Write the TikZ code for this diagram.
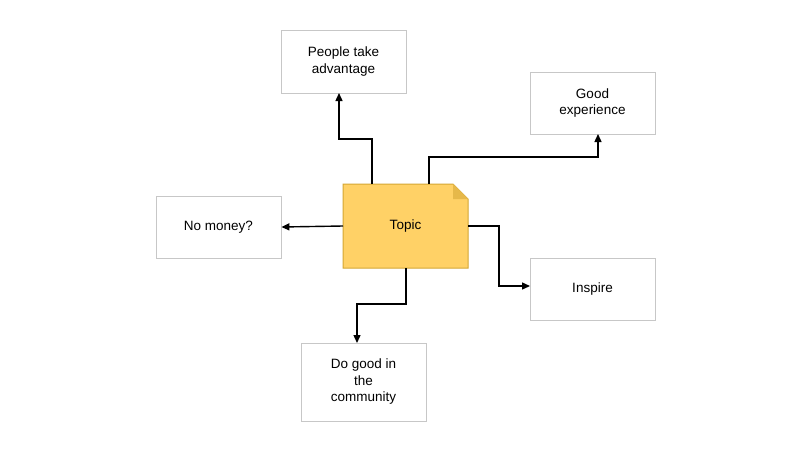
\documentclass[tikz,border=0pt]{standalone}
\usepackage{fontspec}
\setmainfont{Liberation Sans}
\usetikzlibrary{arrows.meta}
\begin{document}
\begin{tikzpicture}[x=1pt,y=-1pt,
  box/.style={draw=black!22,line width=0.8pt,fill=white,align=center,minimum width=125pt,font=\fontsize{13.5}{16.5}\selectfont},
  conn/.style={draw=black,line width=1.4pt,-{Triangle[length=8pt,width=7pt]}}]
\useasboundingbox[fill=white] (0,0) rectangle (800,452);
\definecolor{gold}{HTML}{FFD166}
\definecolor{goldb}{HTML}{D4A733}
\definecolor{goldf}{HTML}{E6B84A}
\node[box,minimum height=63pt] (pta) at (343.5,61.5) {People take\\advantage};
\node[box,minimum height=62pt] (ge) at (592.5,103) {Good\\experience};
\node[box,minimum height=62pt] (nm) at (218.5,227) {No money?};
\node[box,minimum height=62pt] (ins) at (592.5,289) {Inspire};
\node[box,minimum height=78pt] (dg) at (363.5,382) {Do good in\\the\\community};
% topic note
\fill[gold,draw=goldb,line width=1pt] (343,184) -- (453,184) -- (468,199) -- (468,268) -- (343,268) -- cycle;
\fill[goldf] (453,184) -- (453,199) -- (468,199) -- cycle;
\node[minimum width=125pt,minimum height=84pt,font=\fontsize{13.5}{16.5}\selectfont] (t) at (405.5,226) {Topic};
\coordinate (a1) at (372,184);
\coordinate (a2) at (429,184);
\coordinate (a3) at (343,226);
\coordinate (a4) at (468,226);
\coordinate (a5) at (406,268);
\draw[conn] (a1) -- (372,139) -- (339,139) -- (339,93);
\draw[conn] (a2) -- (429,157) -- (598,157) -- (598,134);
\draw[conn] (a3) -- (nm.east);
\draw[conn] (a4) -- (499,226) -- (499,286) -- (530,286);
\draw[conn] (a5) -- (406,304) -- (357,304) -- (357,343);
\end{tikzpicture}
\end{document}
